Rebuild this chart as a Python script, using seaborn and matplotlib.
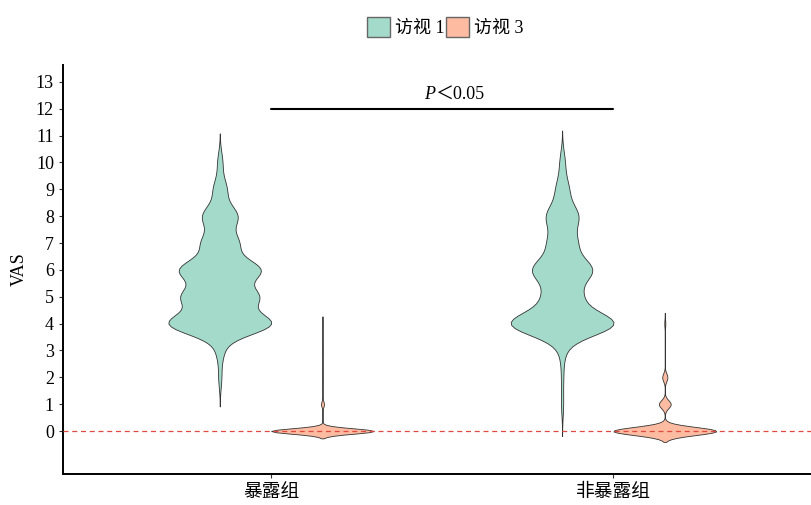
import numpy as np
import pandas as pd
import matplotlib
matplotlib.use('Agg')
import matplotlib.pyplot as plt
from matplotlib.patches import Patch
import seaborn as sns

sns.set_style('ticks')
plt.rcParams['font.family'] = ['Liberation Serif', 'Noto Sans CJK SC']

# VAS score counts per group and visit
vas_levels = [0, 1, 2, 3, 4, 5, 6, 7, 8, 9, 10]
exposed_v1 = [0, 0, 3, 7, 100, 72, 78, 35, 34, 13, 5]
exposed_v3 = [200, 6, 1, 1, 1, 0, 0, 0, 0, 0, 0]
nonexp_v1 = [0, 2, 2, 5, 100, 33, 56, 26, 30, 12, 5]
nonexp_v3 = [200, 23, 10, 0, 2, 0, 0, 0, 0, 0, 0]

groups = ['暴露组', '非暴露组']
visits = ['访视 1', '访视 3']
colors = ['#A3DAC9', '#FDBBA1']

counts = {('暴露组', '访视 1'): exposed_v1, ('暴露组', '访视 3'): exposed_v3,
          ('非暴露组', '访视 1'): nonexp_v1, ('非暴露组', '访视 3'): nonexp_v3}
rows = []
for (g, v), c in counts.items():
    vals = np.repeat(vas_levels, c)
    rows.append(pd.DataFrame({'group': g, 'visit': v, 'VAS': vals}))
df = pd.concat(rows, ignore_index=True)

fig = plt.figure(figsize=(8.12, 5.05), dpi=100)
ax = fig.add_axes([63/812, 31/505, (812-63)/812, (474-65)/505])

sns.violinplot(data=df, x='group', y='VAS', hue='visit', order=groups, hue_order=visits,
               palette=colors, saturation=1, inner=None, density_norm='width',
               cut=2.7, bw_method=0.25, width=0.6, linewidth=0.6, linecolor='#333333',
               legend=False, ax=ax)

ax.axhline(0, color='#E04A40', lw=0.9, ls=(0, (4, 3)), zorder=5)

# significance bar
ax.plot([0, 1], [12, 12], color='black', lw=1.5)
ax.text(0.48, 12.2, 'P', style='italic', ha='right', va='bottom', fontsize=13, color='black')
ax.text(0.48, 12.2, '＜0.05', ha='left', va='bottom', fontsize=13, color='black')

ax.set_xlim(-0.608, 1.58)
ax.set_ylim(-1.6, 13.63)
ax.set_yticks(range(0, 14))
ax.set_xlabel('')
ax.set_ylabel('VAS', fontsize=13, labelpad=6, color='black')
ax.tick_params(axis='both', direction='out', length=3, width=0.8, color='#333333',
               labelsize=13, labelcolor='black')
ax.tick_params(axis='x', labelsize=13.5, pad=4)
sns.despine(ax=ax)
for s in ['left', 'bottom']:
    ax.spines[s].set_linewidth(1.4)
    ax.spines[s].set_color('black')

handles = [Patch(facecolor=c, edgecolor='#666666', lw=1.0) for c in colors]
fig.legend(handles, visits, loc='center', bbox_to_anchor=(445/812, 1 - 27/505), ncol=2,
           frameon=False, fontsize=13, handlelength=1.3, handleheight=1.3,
           columnspacing=0.1, handletextpad=0.25, labelcolor='black')

fig.savefig('out.png', dpi=100)
